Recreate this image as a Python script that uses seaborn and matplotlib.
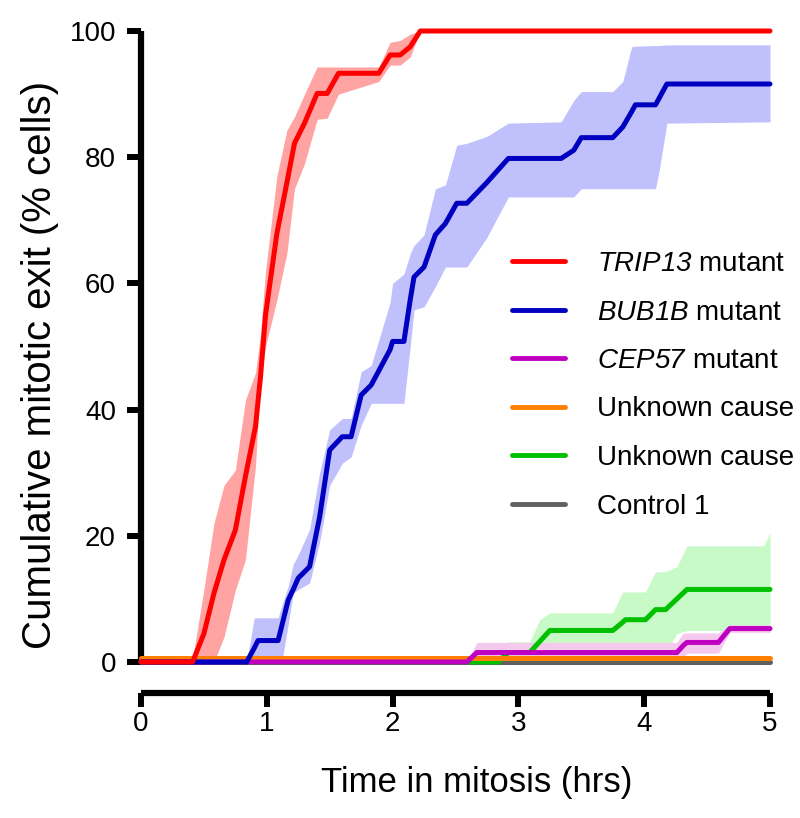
import matplotlib
matplotlib.use("Agg")
import matplotlib.pyplot as plt
import seaborn as sns
import pandas as pd
from matplotlib.lines import Line2D

# ---------------- data ----------------
red_t = [0, 0.41, 0.50, 0.58, 0.66, 0.75, 0.83, 0.91, 0.95, 0.99, 1.08, 1.16, 1.22, 1.30, 1.40, 1.48, 1.57, 1.89, 1.98, 2.06, 2.14, 2.22, 5.0]
red_mean = [0, 0, 4.5, 10.9, 16.2, 20.9, 29.4, 37.3, 45.2, 55, 67.9, 76, 82.2, 85.4, 90.1, 90.1, 93.3, 93.3, 96.2, 96.2, 97.5, 100, 100]
red_hi = [0, 0.5, 11.5, 22, 28, 30.4, 41.5, 45.8, 52, 62, 77, 84.3, 86.4, 90, 94.3, 94.3, 94.3, 94.3, 98.2, 98.5, 99.5, 100, 100]
red_lo = [0, 0, 0, 0, 4, 11.4, 16.2, 31, 45, 50, 57.4, 64.8, 75, 79, 86, 86.2, 90, 92, 94.6, 94.6, 95.9, 100, 100]

blue_t = [0, 0.84, 0.90, 0.93, 1.09, 1.12, 1.17, 1.21, 1.25, 1.34, 1.42, 1.50, 1.60, 1.67, 1.75, 1.83, 1.98, 2.00, 2.09, 2.14, 2.17, 2.25, 2.34, 2.42, 2.51, 2.59, 2.75, 2.92, 3.34, 3.44, 3.50, 3.75, 3.83, 3.90, 3.93, 4.09, 4.12, 4.18, 5.0]
blue_mean = [0, 0, 2.2, 3.4, 3.4, 5.8, 9.8, 11.5, 13.3, 15.1, 23, 33.6, 35.7, 35.7, 42.3, 43.9, 49.5, 50.8, 50.8, 57.4, 61, 62.6, 67.7, 69.5, 72.7, 72.7, 76.0, 79.8, 79.8, 81.1, 83.1, 83.1, 84.8, 87.2, 88.3, 88.3, 89.4, 91.6, 91.6]
blue_hi = [0, 0, 7, 7, 7, 9, 12, 15.5, 17, 21, 30, 36.8, 38.6, 38.6, 46, 47, 57, 60, 61.5, 64.7, 66, 67.7, 75, 75.6, 81.9, 82.2, 83.3, 85.4, 85.6, 89, 90.4, 90.4, 92, 97.5, 97.6, 97.7, 97.7, 97.8, 97.8]
blue_lo = [0, 0, 0, 0, 0, 0, 6, 10.9, 11.5, 12.5, 19, 28, 31.5, 32.5, 37.5, 41, 41, 41, 41, 50, 55.8, 56.3, 59.5, 62.6, 62.6, 62.6, 67.3, 73.7, 73.7, 73.7, 75, 75, 75, 75, 75, 75, 78, 85.4, 85.6]

mag_t = [0, 2.59, 2.67, 4.26, 4.31, 4.34, 4.59, 4.68, 5.0]
mag_mean = [0, 0, 1.5, 1.5, 2.6, 3.1, 3.1, 5.3, 5.3]
mag_hi = [0, 0, 3.1, 3.1, 4.6, 4.6, 4.6, 5.9, 5.9]
mag_lo = [0, 0, 0, 0, 0.8, 1.4, 1.4, 4.7, 4.7]

green_t = [0, 2.84, 2.92, 3.09, 3.17, 3.25, 3.75, 3.83, 3.85, 4.01, 4.09, 4.17, 4.26, 4.34, 4.95, 5.0]
green_mean = [0, 0, 1.5, 1.5, 3.25, 5.0, 5.0, 6.3, 6.7, 6.7, 8.3, 8.3, 10, 11.5, 11.5, 11.5]
green_hi = [0, 0, 3.2, 3.2, 6.7, 7.8, 7.8, 11.1, 11.1, 11.1, 14.3, 14.3, 15.1, 18.4, 18.4, 20.5]
green_lo = [0, 0, 0, 0, 0.5, 1.5, 1.5, 1.5, 1.5, 1.5, 1.5, 1.5, 4.5, 5.0, 5.0, 5.0]

orange_t = [0, 5.0]
orange_mean = [0.6, 0.6]
gray_t = [0, 5.0]
gray_mean = [0, 0]

labels = [r"$\mathrm{TRIP13}$ mutant", r"$\mathrm{BUB1B}$ mutant", r"$\mathrm{CEP57}$ mutant",
          "Unknown cause", "Unknown cause", "Control 1"]
x_ticks = [0, 1, 2, 3, 4, 5]
y_ticks = [0, 20, 40, 60, 80, 100]

# ---------------- style ----------------
sns.set_style("ticks")
plt.rcParams['font.family'] = ['Liberation Sans', 'DejaVu Sans']
plt.rcParams['mathtext.fontset'] = 'custom'
plt.rcParams['mathtext.it'] = 'Liberation Sans:italic'
plt.rcParams['mathtext.rm'] = 'Liberation Sans:italic'
plt.rcParams['text.color'] = 'black'
plt.rcParams['axes.labelcolor'] = 'black'

fig = plt.figure(figsize=(8, 8.18), dpi=100)
ax = fig.add_axes([141/800, 156/818, 629/800, 631/818])

bands = [
    (green_t, green_lo, green_hi, "#c8fac8"),
    (mag_t, mag_lo, mag_hi, "#f5c8ee"),
    (blue_t, blue_lo, blue_hi, "#c0c0fc"),
    (red_t, red_lo, red_hi, "#ffa3a3"),
]
for t, lo, hi, c in bands:
    ax.fill_between(t, lo, hi, color=c, linewidth=0, zorder=1)

series = {
    "red": (red_t, red_mean, "#ff0000"),
    "blue": (blue_t, blue_mean, "#0000c0"),
    "mag": (mag_t, mag_mean, "#c000c0"),
    "orange": (orange_t, orange_mean, "#ff8000"),
    "green": (green_t, green_mean, "#00c000"),
    "gray": (gray_t, gray_mean, "#606060"),
}
draw_order = ["gray", "green", "orange", "mag", "blue", "red"]
zs = {k: i + 2 for i, k in enumerate(draw_order)}
for key in draw_order:
    t, m, c = series[key]
    df = pd.DataFrame({"t": t, "v": m})
    sns.lineplot(data=df, x="t", y="v", color=c, linewidth=3.6, ax=ax,
                 estimator=None, sort=False, zorder=zs[key], clip_on=False)

# legend
keys = ["red", "blue", "mag", "orange", "green", "gray"]
handles = [Line2D([0], [0], color=series[k][2], lw=3.5) for k in keys]
leg = ax.legend(handles, labels, loc="upper left", bbox_to_anchor=(512/800, 1 - 251/818),
                bbox_transform=fig.transFigure, frameon=False, fontsize=20,
                handlelength=1.9, handletextpad=1.15, labelspacing=0.81, borderpad=0, borderaxespad=0)
for txt in leg.get_texts():
    txt.set_color('black')

ax.set_xlim(0, 5)
ax.set_ylim(0, 100)
ax.set_xticks(x_ticks)
ax.set_yticks(y_ticks)
sns.despine(ax=ax)
ax.spines['bottom'].set_position(('axes', -31/631))
for s in ['left', 'bottom']:
    ax.spines[s].set_linewidth(4.5)
    ax.spines[s].set_color('black')
    ax.spines[s].set_capstyle('butt')
ax.tick_params(axis='both', direction='out', length=10, width=4.3, labelsize=20, colors='black')
ax.tick_params(axis='y', pad=8)
ax.tick_params(axis='x', pad=3)
ax.set_xlabel("Time in mitosis (hrs)", fontsize=25)
ax.set_ylabel("Cumulative mitotic exit (% cells)", fontsize=29)
ax.xaxis.set_label_coords((477 - 141) / 629, -0.165)
ax.yaxis.set_label_coords(-0.131, 0.471)

fig.savefig("out.png", dpi=100)
